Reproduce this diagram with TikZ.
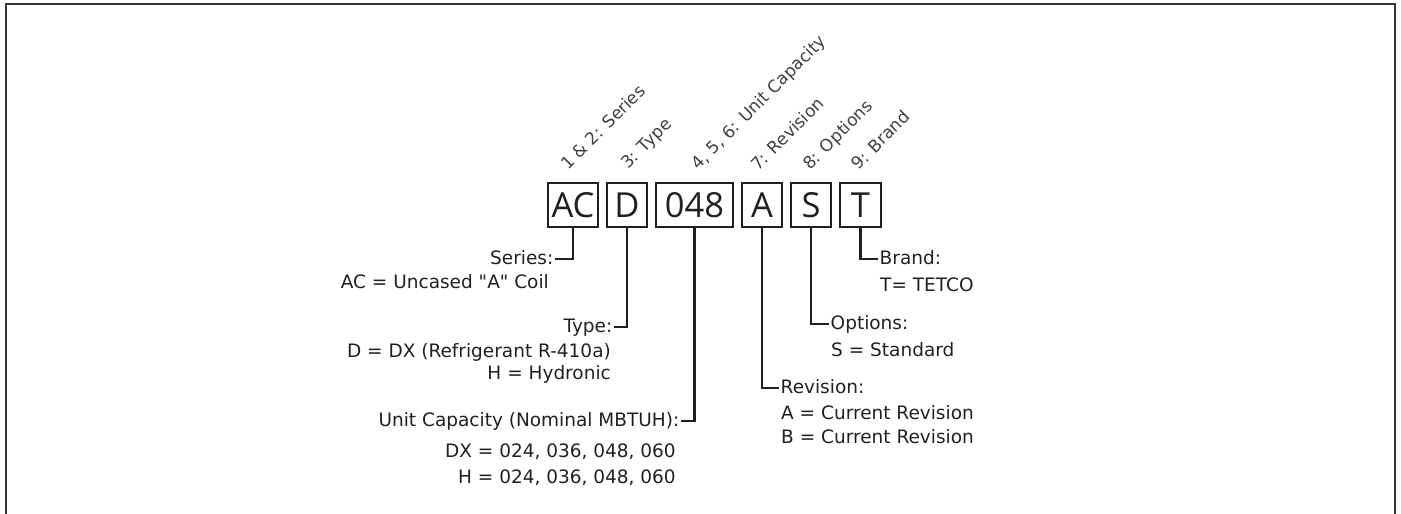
\documentclass[tikz,border=0pt]{standalone}
\usepackage{fontspec}
\setmainfont{DejaVu Sans}
\newfontfamily\boxfont{Open Sans}
\usetikzlibrary{positioning}
\definecolor{ink}{RGB}{35,31,32}
\definecolor{soft}{RGB}{64,64,64}
\tikzset{
    code/.style={rectangle, draw=ink, line width=2pt, minimum height=44pt, inner sep=0pt, font=\boxfont\fontsize{34.5}{34.5}\selectfont, text=ink},
    tag/.style={rotate=45, anchor=base west, inner sep=0pt, font=\fontsize{17}{17}\selectfont, text=soft},
    ttl/.style={inner sep=1.5pt, text height=13pt, text depth=3pt, font=\fontsize{18.5}{18.5}\selectfont, text=ink},
    desc/.style={inner sep=0pt, font=\fontsize{18.5}{18.5}\selectfont, text=ink},
    link/.style={draw=ink, line width=2.2pt},
    frame/.style={draw=ink!90, line width=2pt}
}
\begin{document}
\begin{tikzpicture}[x=1pt, y=-1pt]
    \useasboundingbox (0,0) rectangle (1401,514);
    \draw[frame] (6,514) -- (6,4) -- (1395,4) -- (1395,514);

    % model code boxes
    \node[code, minimum width=50pt] (ac) at (573,205) {AC};
    \node[code, minimum width=40pt, right=7pt of ac] (d) {D};
    \node[code, minimum width=77pt, right=7pt of d] (cap) {048};
    \node[code, minimum width=40pt, right=7pt of cap] (rev) {A};
    \node[code, minimum width=40pt, right=7pt of rev] (opt) {S};
    \node[code, minimum width=41pt, right=7pt of opt] (brand) {T};

    % digit positions
    \node[tag] at ([xshift=-5pt, yshift=11pt]ac.north) {1 \& 2: Series};
    \node[tag] at ([xshift=1pt, yshift=12pt]d.north) {3: Type};
    \node[tag] at ([xshift=4pt, yshift=11pt]cap.north) {4, 5, 6: Unit Capacity};
    \node[tag] at ([xshift=-4pt, yshift=10pt]rev.north) {7: Revision};
    \node[tag] at ([xshift=-1pt, yshift=11pt]opt.north) {8: Options};
    \node[tag] at ([xshift=-2pt, yshift=11pt]brand.north) {9: Brand};

    % left side
    \node[ttl, anchor=east] (seriesT) at (555,259) {Series:};
    \node[desc, anchor=base east] (seriesD) at (549,288) {AC = Uncased \textquotedbl A\textquotedbl{} Coil};
    \node[ttl, anchor=east] (typeT) at (614,327) {Type:};
    \node[desc, anchor=base east] (typeD1) at (611,357) {D = DX (Refrigerant R-410a)};
    \node[desc, anchor=base east] (typeD2) at (611,379) {H = Hydronic};
    \node[ttl, anchor=east] (capT) at (681,421) {Unit Capacity (Nominal MBTUH):};
    \node[desc, anchor=base east] (capD1) at (676,457) {DX = 024, 036, 048, 060};
    \node[desc, anchor=base east] (capD2) at (676,483) {H = 024, 036, 048, 060};

    % right side
    \node[ttl, anchor=west] (brandT) at (878,259) {Brand:};
    \node[desc, anchor=base west] (brandD) at (880,291) {T= TETCO};
    \node[ttl, anchor=west] (optT) at (829,324) {Options:};
    \node[desc, anchor=base west] (optD) at (831,356) {S = Standard};
    \node[ttl, anchor=west] (revT) at (779,388) {Revision:};
    \node[desc, anchor=base west] (revD1) at (781,419) {A = Current Revision};
    \node[desc, anchor=base west] (revD2) at (781,443) {B = Current Revision};

    % leaders
    \draw[link] (ac.south) |- (seriesT.east);
    \draw[link] (d.south) |- (typeT.east);
    \draw[link] (cap.south) |- (capT.east);
    \draw[link] (rev.south) |- (revT.west);
    \draw[link] (opt.south) |- (optT.west);
    \draw[link] (brand.south) |- (brandT.west);
\end{tikzpicture}
\end{document}
